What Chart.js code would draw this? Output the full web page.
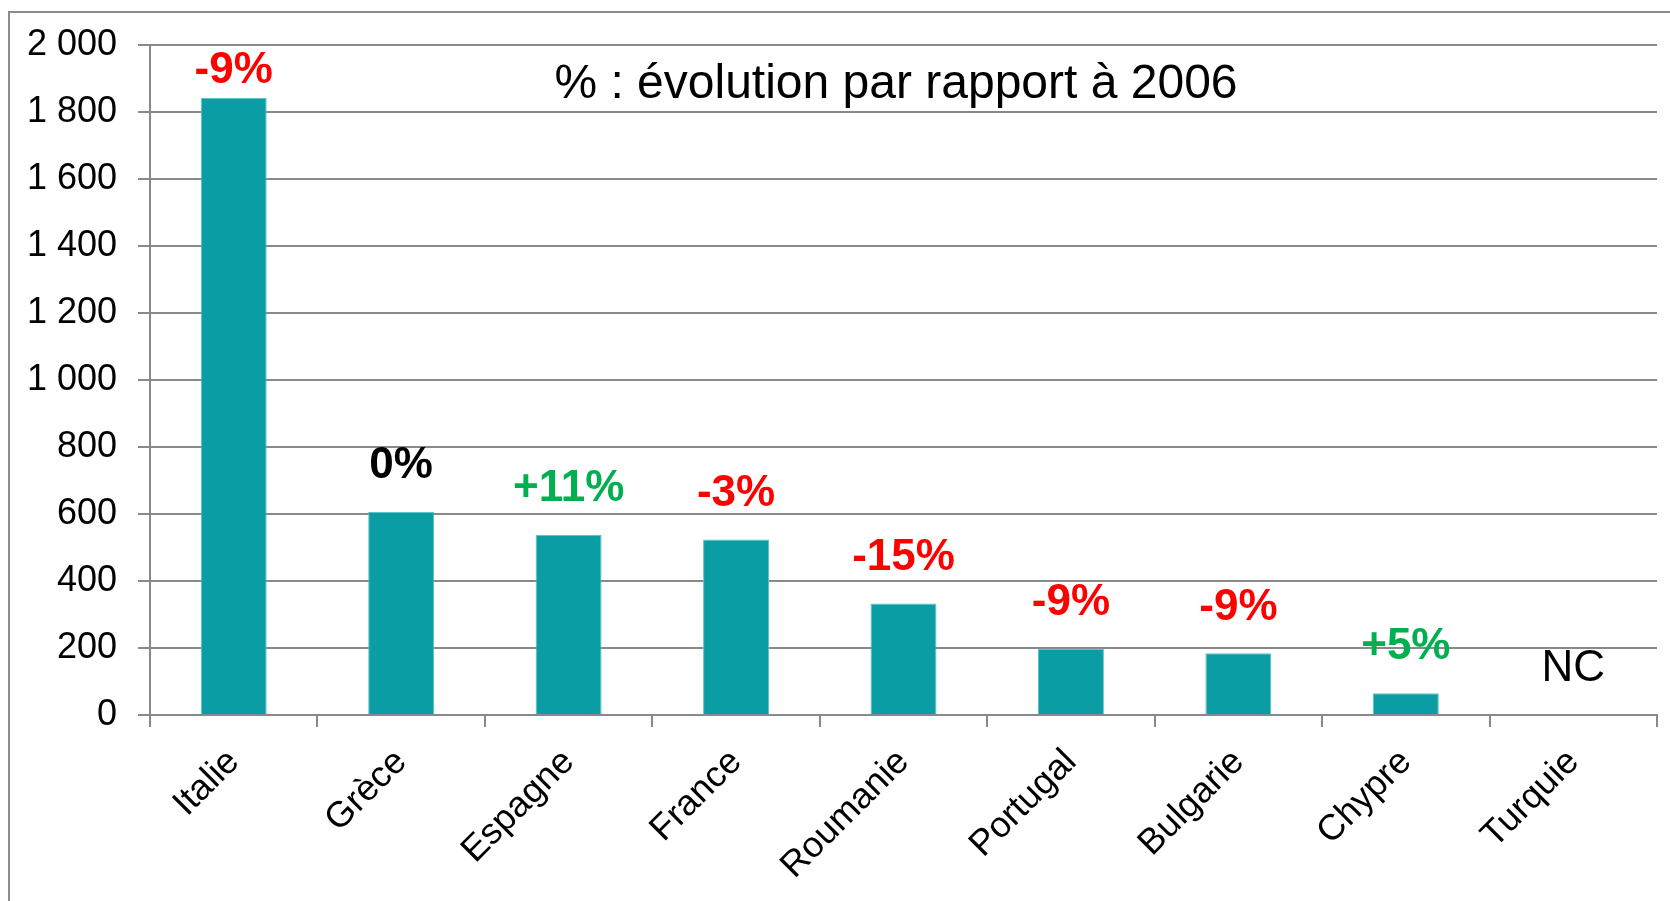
<!DOCTYPE html>
<html>
<head>
<meta charset="utf-8">
<script src="https://cdn.jsdelivr.net/npm/chart.js@4/dist/chart.umd.min.js"></script>
<style>
    html, body { margin: 0; padding: 0; background: #fff; }
    #wrap { position: relative; width: 1670px; height: 901px; }
</style>
</head>
<body>
<div id="wrap"><canvas id="chart" width="1670" height="901"></canvas></div>
<script>
// Values
const countries = ['Italie', 'Grèce', 'Espagne', 'France', 'Roumanie', 'Portugal', 'Bulgarie', 'Chypre', 'Turquie'];
const values = [1842, 606, 537, 524, 333, 198, 184, 65, null];
const changes = ['-9%', '0%', '+11%', '-3%', '-15%', '-9%', '-9%', '+5%', 'NC'];
const yTicks = [0, 200, 400, 600, 800, 1000, 1200, 1400, 1600, 1800, 2000];
const title = '% : évolution par rapport à 2006';

const FONT = '"Liberation Sans", Arial, sans-serif';
const GRID = '#898989';

const changeColor = (s) => {
    if (s === 'NC' || s === '0%') return '#000000';
    return s.startsWith('+') ? '#00b050' : '#ff0000';
};

// outer frame (left + top edges only, like the cropped slide)
const framePlugin = {
    id: 'frame',
    beforeDraw(chart) {
        const ctx = chart.ctx;
        ctx.save();
        ctx.strokeStyle = '#8c8c8c';
        ctx.lineWidth = 2;
        ctx.beginPath();
        ctx.moveTo(9, chart.height);
        ctx.lineTo(9, 12);
        ctx.lineTo(chart.width, 12);
        ctx.stroke();
        ctx.restore();
    }
};

// percentage labels above each bar + title text
const labelPlugin = {
    id: 'changeLabels',
    afterDatasetsDraw(chart) {
        const ctx = chart.ctx;
        const meta = chart.getDatasetMeta(0);
        const yScale = chart.scales.y;
        const area = chart.chartArea;
        ctx.save();
        ctx.textAlign = 'center';
        ctx.textBaseline = 'middle';
        meta.data.forEach((bar, i) => {
            const txt = changes[i];
            const v = values[i];
            const top = v == null ? yScale.getPixelForValue(0) : bar.y;
            // keep the label inside the plot area
            const y = Math.max(top - 46, area.top + 26);
            ctx.font = (txt === 'NC' ? '' : 'bold ') + '44px ' + FONT;
            ctx.fillStyle = changeColor(txt);
            ctx.fillText(txt, bar.x, y);
        });
        ctx.font = '48px ' + FONT;
        ctx.fillStyle = '#000';
        ctx.fillText(title, area.left + (area.right - area.left) * 0.495, 85);
        ctx.restore();
    }
};

new Chart(document.getElementById('chart'), {
    type: 'bar',
    data: {
        labels: countries,
        datasets: [{
            data: values,
            backgroundColor: '#0a9ea4',
            borderColor: '#5cc3c7',
            borderWidth: 1,
            barPercentage: 0.394,
            categoryPercentage: 1.0
        }]
    },
    options: {
        responsive: false,
        animation: false,
        layout: { padding: { left: 0, top: 45, right: 13, bottom: 0 } },
        plugins: {
            legend: { display: false },
            tooltip: { enabled: false }
        },
        scales: {
            x: {
                afterFit: (s) => { s.height = 186; },
                grid: {
                    offset: true,
                    drawOnChartArea: false,
                    color: GRID,
                    lineWidth: 2,
                    tickLength: 12
                },
                border: { color: GRID, width: 2 },
                ticks: {
                    autoSkip: false,
                    maxRotation: 45,
                    minRotation: 45,
                    padding: 14,
                    color: '#000',
                    font: { family: FONT, size: 36 }
                }
            },
            y: {
                min: 0,
                max: 2000,
                afterFit: (s) => { s.width = 150; },
                afterBuildTicks: (s) => { s.ticks = yTicks.map(v => ({ value: v })); },
                grid: {
                    color: GRID,
                    lineWidth: 2,
                    tickLength: 12
                },
                border: { color: GRID, width: 2 },
                ticks: {
                    padding: 21,
                    color: '#000',
                    font: { family: FONT, size: 36 },
                    callback: (v) => String(v).replace(/\B(?=(\d{3})+(?!\d))/g, ' ')
                }
            }
        }
    },
    plugins: [framePlugin, labelPlugin]
});
</script>
</body>
</html>
